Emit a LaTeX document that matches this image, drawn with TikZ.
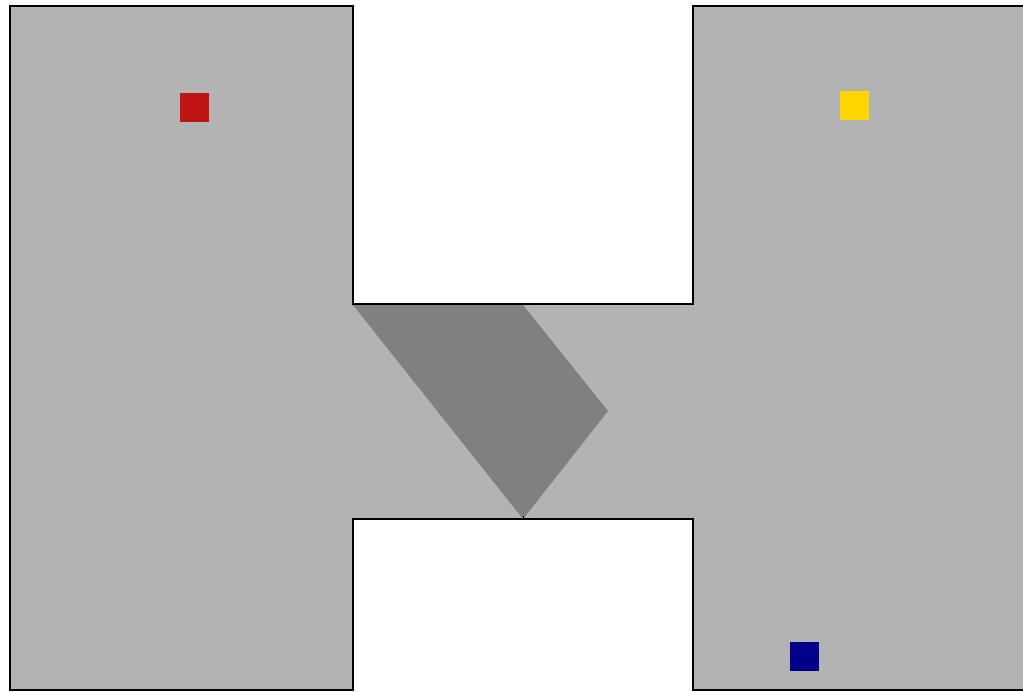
\documentclass[tikz,border=0pt]{standalone}
\begin{document}
\begin{tikzpicture}[x=1pt,y=-1pt,
  wall/.style={draw=black,line width=1.3pt,line join=miter},
  marker/.style={minimum size=29pt,inner sep=0pt,draw=none}]
\definecolor{floorgray}{RGB}{179,179,179}
\definecolor{zonegray}{RGB}{128,128,128}
\definecolor{mred}{RGB}{190,20,20}
\definecolor{myellow}{RGB}{255,215,0}
\definecolor{mblue}{RGB}{0,0,139}
\useasboundingbox (0,0) rectangle (1023,691);
\clip (0,0) rectangle (1023,691);
\fill[white] (0,0) rectangle (1023,691);
\filldraw[wall,fill=floorgray] (10,6) -- (353,6) -- (353,304) -- (693,304) -- (693,6) -- (1030,6) -- (1030,690) -- (693,690) -- (693,519) -- (353,519) -- (353,690) -- (10,690) -- cycle;
\fill[zonegray] (353,305) -- (523,305) -- (608,411) -- (523,519) -- cycle;
\draw[line width=2.5pt] (353,304) -- (523,304);
\draw[line width=0.6pt] (523,519) -- (523,516);
\node[marker,fill=mred] (red) at (194.5,107.5) {};
\node[marker,fill=myellow] (yellow) at (854.5,105.5) {};
\node[marker,fill=mblue] (blue) at (804.5,656.5) {};
\end{tikzpicture}
\end{document}
